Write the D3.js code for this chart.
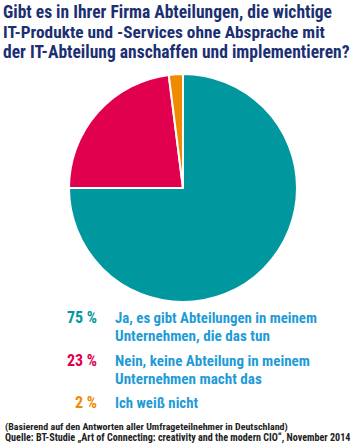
<!DOCTYPE html>
<html><head><meta charset="utf-8">
<script src="https://cdn.jsdelivr.net/npm/d3@7"></script>
<style>body{margin:0;background:#fff}svg{display:block}</style>
</head><body>
<script>
const titleLines = ["Gibt es in Ihrer Firma Abteilungen, die wichtige","IT-Produkte und -Services ohne Absprache mit","der IT-Abteilung anschaffen und implementieren?"];
const categories = ["Ja","Nein","Weiß nicht"];
const values = [75, 23, 2];
const pctLabels = ["75 %","23 %","2 %"];
const labelLines = [["Ja, es gibt Abteilungen in meinem","Unternehmen, die das tun"],["Nein, keine Abteilung in meinem","Unternehmen macht das"],["Ich weiß nicht"]];
const colors = ["#00979f","#e0004d","#f08a00"];
const notes = ["(Basierend auf den Antworten aller Umfrageteilnehmer in Deutschland)","Quelle: BT-Studie \u201EArt of Connecting: creativity and the modern CIO\u201C, November 2014"];

const W=354,H=448;
const svg=d3.select("body").append("svg").attr("width",W).attr("height",H);
const font="'Roboto Condensed','Open Sans Condensed',sans-serif";

function fit(sel, target, size){
  const n=sel.node();
  sel.attr("font-size",size);
  const w=n.getComputedTextLength();
  sel.attr("font-size",(size*target/w).toFixed(2));
}

const titleW=[329,322,347];
svg.selectAll("text.title").data(titleLines).join("text").attr("class","title")
 .attr("x",3).attr("y",(d,i)=>18+i*20).attr("fill","#1b2f72")
 .attr("font-family",font).attr("font-weight","bold")
 .text(d=>d).each(function(d,i){fit(d3.select(this),titleW[i],18);});

const pie=d3.pie().sort(null).value(d=>d);
const arc=d3.arc().innerRadius(0).outerRadius(114);
svg.append("g").attr("transform","translate(183,188)")
 .selectAll("path").data(pie(values)).join("path")
 .attr("d",arc).attr("fill",(d,i)=>colors[i]).attr("stroke","#fff").attr("stroke-width",2).attr("stroke-linejoin","miter");

const baseY=[323,366,408];
const lblW=[[202,155],[195,147],[83]];
const lg=svg.append("g");
values.forEach((v,i)=>{
  lg.append("text").attr("x",97).attr("y",baseY[i]).attr("text-anchor","end")
   .attr("fill",colors[i]).attr("font-family",font).attr("font-weight","bold")
   .attr("font-size",16).text(pctLabels[i]);
  labelLines[i].forEach((t,j)=>{
    const s=lg.append("text").attr("x",115).attr("y",baseY[i]+j*18)
     .attr("fill","#1f9bd7").attr("font-family",font).attr("font-weight","bold").text(t);
    fit(s,lblW[i][j],15);
  });
});

const noteW=[283,346];
svg.selectAll("text.note").data(notes).join("text").attr("class","note")
 .attr("x",5).attr("y",(d,i)=>430+i*11).attr("fill","#222")
 .attr("font-family",font).attr("font-weight","bold")
 .text(d=>d).each(function(d,i){fit(d3.select(this),noteW[i],10);});
</script>
</body></html>
